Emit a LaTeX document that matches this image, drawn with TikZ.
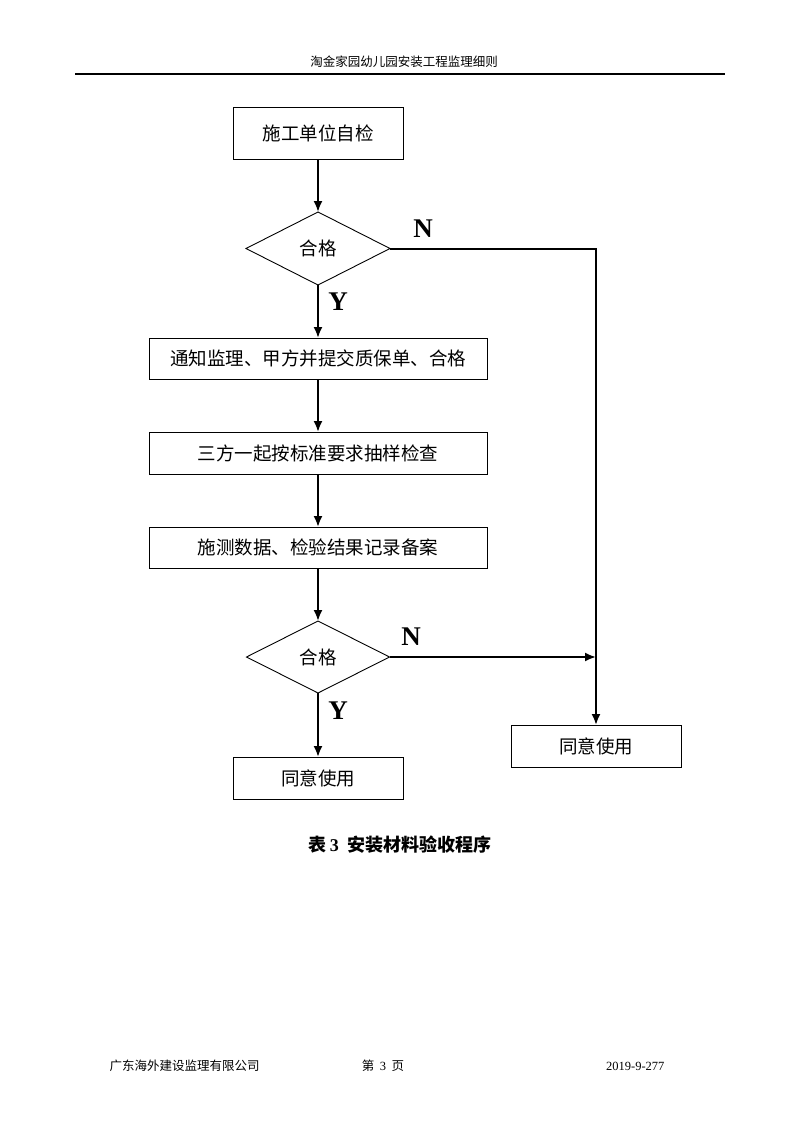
\documentclass[tikz,border=0pt]{standalone}
\usepackage{fontspec}
\setmainfont{Liberation Serif}
\newfontfamily\cjk{Noto Sans CJK SC}
\usetikzlibrary{shapes.geometric,arrows.meta}
\begin{document}
\begin{tikzpicture}[x=1pt,y=-1pt,
  stepbox/.style={draw,line width=0.9pt,inner sep=0pt,outer sep=0pt,font=\cjk\fontsize{18.5}{20}\selectfont},
  decide/.style={draw,diamond,line width=0.9pt,inner sep=0pt,outer sep=0pt,minimum width=144pt,minimum height=73pt,font=\cjk\fontsize{18.5}{20}\selectfont},
  conn/.style={line width=2pt,-{Latex[length=11pt,width=9pt]}},
  yn/.style={font=\fontsize{27}{28}\selectfont\bfseries},
  small/.style={font=\cjk\fontsize{12.5}{14}\selectfont}]
\useasboundingbox (0,0) rectangle (800,1132);
% header
\node[small] (hdr) at (404,62) {淘金家园幼儿园安装工程监理细则};
\draw[line width=1.3pt] (75,74) coordinate (hl) -- (725,74) coordinate (hr);
% nodes
\node[stepbox,minimum width=170pt,minimum height=52pt] (b1) at (318,133) {施工单位自检};
\node[decide] (d1) at (318,248.5) {合格};
\node[stepbox,minimum width=338pt,minimum height=41pt] (b2) at (318,358.5) {通知监理、甲方并提交质保单、合格};
\node[stepbox,minimum width=338pt,minimum height=42pt] (b3) at (318,453) {三方一起按标准要求抽样检查};
\node[stepbox,minimum width=338pt,minimum height=41pt] (b4) at (318,547.5) {施测数据、检验结果记录备案};
\node[decide,minimum width=143pt,minimum height=72pt] (d2) at (318,657) {合格};
\node[stepbox,minimum width=170pt,minimum height=42pt] (b5) at (318,778) {同意使用};
\node[stepbox,minimum width=170pt,minimum height=42pt] (r) at (596,746) {同意使用};
\coordinate (c1) at (596,248.5);
\coordinate (j) at (596,657);
% connectors
\draw[conn] (b1) -- (d1);
\draw[conn] (d1) -- (b2);
\draw[conn] (b2) -- (b3);
\draw[conn] (b3) -- (b4);
\draw[conn] (b4) -- (d2);
\draw[conn] (d2) -- (b5);
\draw[conn] (d1.east) -- (c1) -- (r.north);
\draw[conn] (d2.east) -- (j);
% labels
\node[yn] (n1) at (423,229) {N};
\node[yn] (y1) at (338,302) {Y};
\node[yn] (n2) at (411,637) {N};
\node[yn] (y2) at (338,711) {Y};
% caption
\node[font=\cjk\fontsize{18}{20}\selectfont\bfseries] (cap) at (400,845) {表\,{\rmfamily 3}\ \ 安装材料验收程序};
% footer
\node[small,anchor=west] (f1) at (106,1066) {广东海外建设监理有限公司};
\node[small] (f2) at (383,1066) {第\ \ {\rmfamily 3}\ \ 页};
\node[font=\fontsize{12.5}{14}\selectfont,anchor=east] (f3) at (668,1066) {2019-9-277};
\end{tikzpicture}
\end{document}
